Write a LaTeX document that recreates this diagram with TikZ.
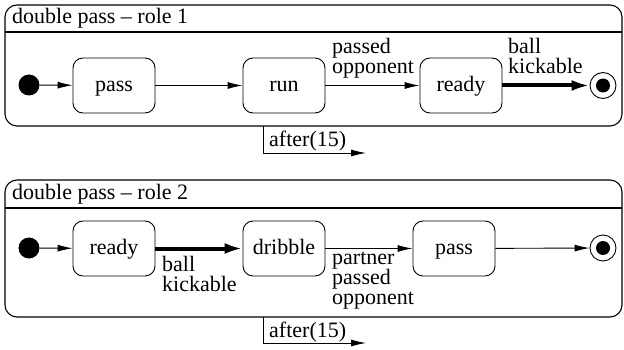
\documentclass[tikz,border=0pt]{standalone}
\usepackage{fontspec}
\setmainfont{Liberation Serif}
\usetikzlibrary{arrows.meta}
\begin{document}
\begin{tikzpicture}[x=1pt,y=-1pt,
  every node/.style={font=\rmfamily\fontsize{22}{20}\selectfont},
  outer/.style={draw, line width=1.1pt, rounded corners=12pt, minimum width=617pt, minimum height=121pt, inner sep=0pt},
  statebox/.style={draw, line width=0.9pt, rounded corners=10pt, minimum width=82pt, minimum height=55pt, inner sep=0pt, text height=15pt, text depth=3pt},
  initdot/.style={circle, fill=black, minimum size=21pt, inner sep=0pt},
  finalring/.style={circle, draw, line width=0.9pt, minimum size=26pt, inner sep=0pt},
  finaldot/.style={circle, fill=black, minimum size=14pt, inner sep=0pt},
  trans/.style={line width=0.9pt, -{Latex[length=15pt,width=7pt]}},
  thicktrans/.style={line width=4pt, -{Latex[length=18pt,width=11pt]}},
  lbl/.style={align=left, inner sep=0pt, anchor=north west},
  titletext/.style={inner sep=0pt, anchor=base west},
]
\useasboundingbox (0,0) rectangle (624,350);

% ---------- role 1 ----------
\node[outer, minimum height=121pt] (box1) at (313.5,65.5) {};
\coordinate (h1l) at (5,32);
\coordinate (h1r) at (622,32);
\draw[line width=1.1pt] (h1l) -- (h1r);
\node[titletext] (t1) at (12,24) {double pass -- role 1};

\node[initdot] (i1) at (29,85) {};
\node[statebox] (pass1) at (114,85.5) {pass};
\node[statebox] (run1) at (284,85.5) {run};
\node[statebox] (ready1) at (461,85.5) {ready};
\node[finalring] (f1) at (603,85.5) {};
\node[finaldot] (fd1) at (603,85.5) {};

\draw[trans] (i1) -- (pass1);
\draw[trans] (pass1) -- (run1);
\draw[trans] (run1) -- (ready1);
\draw[thicktrans] (ready1) -- (f1);
\node[lbl] (l1) at (332,38) {passed\\opponent};
\node[lbl] (l2) at (508,38) {ball\\kickable};

\coordinate (a1s) at (263,126);
\coordinate (a1c) at (263,153);
\coordinate (a1e) at (366,153);
\draw[line width=0.9pt] (a1s) -- (a1c);
\draw[trans] (a1c) -- (a1e);
\node[titletext] (af1) at (269,147) {after(15)};

% ---------- role 2 ----------
\node[outer, minimum height=137pt] (box2) at (313.5,248.5) {};
\coordinate (h2l) at (5,208);
\coordinate (h2r) at (622,208);
\draw[line width=1.1pt] (h2l) -- (h2r);
\node[titletext] (t2) at (12,200) {double pass -- role 2};

\node[initdot] (i2) at (29,248) {};
\node[statebox] (ready2) at (114,248.5) {ready};
\node[statebox] (drib2) at (284,248.5) {dribble};
\node[statebox] (pass2) at (454,248.5) {pass};
\node[finalring] (f2) at (603,248) {};
\node[finaldot] (fd2) at (603,248) {};

\draw[trans] (i2) -- (ready2);
\draw[thicktrans] (ready2) -- (drib2);
\draw[trans] (drib2) -- (pass2);
\draw[trans] (pass2) -- (f2);
\node[lbl] (l3) at (162,256) {ball\\kickable};
\node[lbl] (l4) at (332,252) {partner\\passed\\opponent};

\coordinate (a2s) at (263,317);
\coordinate (a2c) at (263,343);
\coordinate (a2e) at (366,343);
\draw[line width=0.9pt] (a2s) -- (a2c);
\draw[trans] (a2c) -- (a2e);
\node[titletext] (af2) at (269,337) {after(15)};
\end{tikzpicture}
\end{document}
